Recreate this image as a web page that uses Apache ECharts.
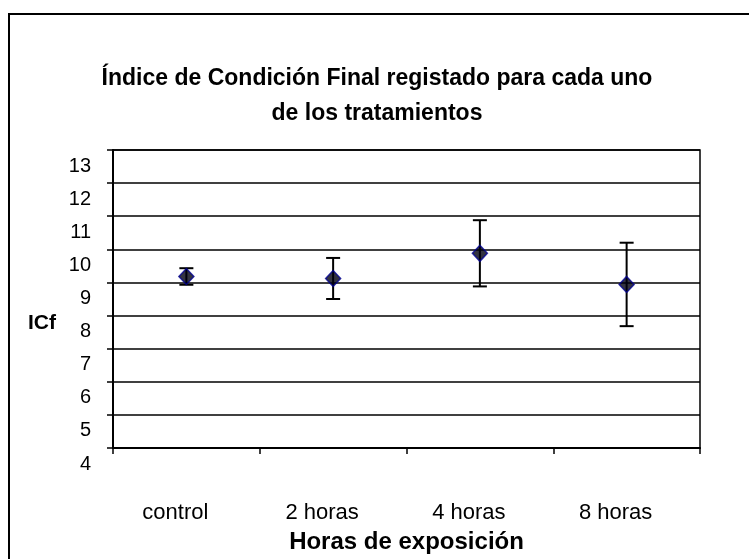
<!DOCTYPE html>
<html>
<head>
<meta charset="utf-8">
<script src="https://cdn.jsdelivr.net/npm/echarts@6/dist/echarts.min.js"></script>
<style>
html,body{margin:0;padding:0;background:#fff;}
#chart{width:749px;height:559px;}
</style>
</head>
<body>
<div id="chart"></div>
<script>
var categories = ['control', '2 horas', '4 horas', '8 horas'];
var means = [9.18, 9.12, 9.88, 8.94];
var errors = [0.25, 0.62, 1.0, 1.26];
var yTicks = [4, 5, 6, 7, 8, 9, 10, 11, 12, 13];

var FONT = '"Liberation Sans", Arial, sans-serif';
var chart = echarts.init(document.getElementById('chart'), null, {renderer: 'canvas'});

var errData = categories.map(function (c, i) {
  return [i, means[i] - errors[i], means[i] + errors[i]];
});
var pointData = categories.map(function (c, i) { return [i, means[i]]; });

var option = {
  backgroundColor: '#ffffff',
  animation: false,
  title: {
    text: 'Índice de Condición Final registado para cada uno\nde los tratamientos',
    left: 372,
    top: 56,
    textAlign: 'center',
    textStyle: {fontFamily: FONT, fontSize: 23, fontWeight: 'bold', color: '#000', lineHeight: 35, align: 'center'}
  },
  graphic: [{
    type: 'rect',
    shape: {x: 9, y: 14, width: 800, height: 600},
    style: {fill: 'none', stroke: '#000', lineWidth: 2},
    silent: true
  }, {
    type: 'text',
    left: 28,
    top: 313,
    style: {text: 'ICf', fontFamily: FONT, fontSize: 21, fontWeight: 'bold', fill: '#000'}
  }],
  grid: {left: 113, right: 49, top: 150, bottom: 109, show: true, borderColor: '#000', borderWidth: 1.5, backgroundColor: 'transparent'},
  xAxis: {
    type: 'category',
    data: categories,
    boundaryGap: true,
    axisLine: {lineStyle: {color: '#000', width: 2}},
    axisTick: {show: true, inside: false, interval: 0, length: 6, lineStyle: {color: '#000', width: 1.5}},
    axisLabel: {
      interval: 0,
      hideOverlap: false,
      fontFamily: FONT, fontSize: 22, color: '#000', margin: 54,
      formatter: function (v) { return '{t|' + v + '}{s|}'; },
      rich: {
        t: {fontFamily: FONT, fontSize: 22, color: '#000'},
        s: {width: 22}
      }
    },
    name: 'Horas de exposición',
    nameLocation: 'middle',
    nameGap: 82,
    nameTextStyle: {fontFamily: FONT, fontSize: 24, fontWeight: 'bold', color: '#000'}
  },
  yAxis: {
    type: 'value',
    min: 4,
    max: 13,
    interval: 1,
    axisLine: {show: true, lineStyle: {color: '#000', width: 2}},
    axisTick: {show: true, inside: false, length: 6, lineStyle: {color: '#000', width: 1.5}},
    splitLine: {show: true, lineStyle: {color: '#000', width: 1.5}},
    axisLabel: {
      fontFamily: FONT, fontSize: 20, color: '#000', margin: 22,
      verticalAlign: 'top', lineHeight: 32,
      formatter: function (v) { return yTicks.indexOf(v) >= 0 ? String(v) : ''; }
    }
  },
  series: [{
    type: 'custom',
    data: errData,
    z: 3,
    renderItem: function (params, api) {
      var x = api.value(0);
      var lo = api.coord([x, api.value(1)]);
      var hi = api.coord([x, api.value(2)]);
      var hw = 7;
      var st = {stroke: '#000', lineWidth: 2};
      return {
        type: 'group',
        children: [
          {type: 'line', shape: {x1: lo[0], y1: lo[1], x2: hi[0], y2: hi[1]}, style: st},
          {type: 'line', shape: {x1: lo[0] - hw, y1: lo[1], x2: lo[0] + hw, y2: lo[1]}, style: st},
          {type: 'line', shape: {x1: hi[0] - hw, y1: hi[1], x2: hi[0] + hw, y2: hi[1]}, style: st}
        ]
      };
    }
  }, {
    type: 'scatter',
    data: pointData,
    z: 4,
    symbol: 'diamond',
    symbolSize: [15, 16],
    itemStyle: {color: '#000010', borderColor: '#000090', borderWidth: 1.5}
  }]
};
chart.setOption(option);
</script>
</body>
</html>
